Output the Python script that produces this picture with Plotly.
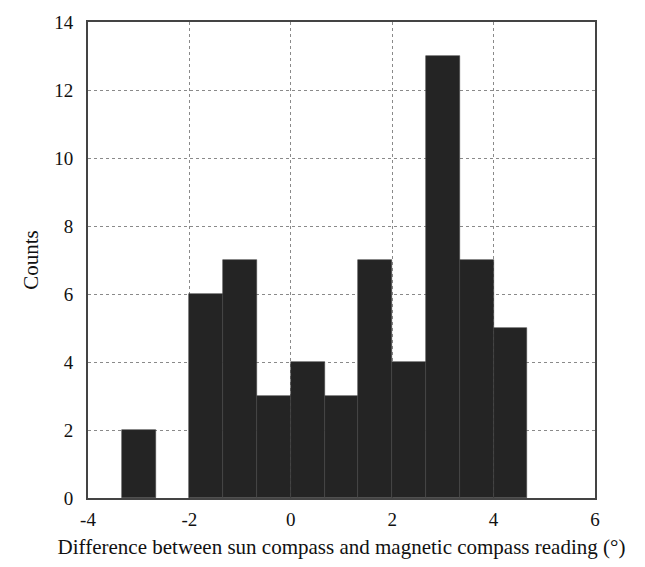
import plotly.graph_objects as go

# Histogram bins (width 2/3) and counts
bin_left_edges = [-10/3, -8/3, -2, -4/3, -2/3, 0, 2/3, 4/3, 2, 8/3, 10/3, 4]
counts = [2, 0, 6, 7, 3, 4, 3, 7, 4, 13, 7, 5]
bin_width = 2/3
x_ticks = [-4, -2, 0, 2, 4, 6]
x_tick_labels = ["-4", "-2", "0", "2", "4", "6"]
y_ticks = [0, 2, 4, 6, 8, 10, 12, 14]

centers = [e + bin_width / 2 for e in bin_left_edges]

fig = go.Figure(go.Bar(
    x=centers, y=counts, width=bin_width,
    marker=dict(color="#242424",
                line=dict(color="#444444", width=[0.6 if c > 0 else 0 for c in counts])),
    showlegend=False,
))

font = "Liberation Serif"
axis_common = dict(
    showgrid=True, gridcolor="#8a8a8a", griddash="dot", gridwidth=1,
    showline=True, linecolor="#444444", linewidth=2, mirror=True,
    ticks="", zeroline=False,
    tickfont=dict(family=font, size=19, color="#111111"),
)

fig.update_layout(
    width=645, height=567,
    margin=dict(l=88, r=50, t=20, b=67),
    paper_bgcolor="white", plot_bgcolor="white",
    font=dict(family=font, color="#111111"),
    bargap=0,
    xaxis=dict(range=[-4, 6], tickvals=x_ticks, ticktext=x_tick_labels, ticklabelstandoff=3,
               title=dict(text="Difference between sun compass and magnetic compass reading (°)",
                          font=dict(family=font, size=21, color="#111111"), standoff=11),
               **axis_common),
    yaxis=dict(range=[0, 14], tickvals=y_ticks, ticklabelstandoff=9,
               title=dict(text="Counts", font=dict(family=font, size=21, color="#111111"), standoff=10),
               **axis_common),
)

fig.write_html("out.html")
